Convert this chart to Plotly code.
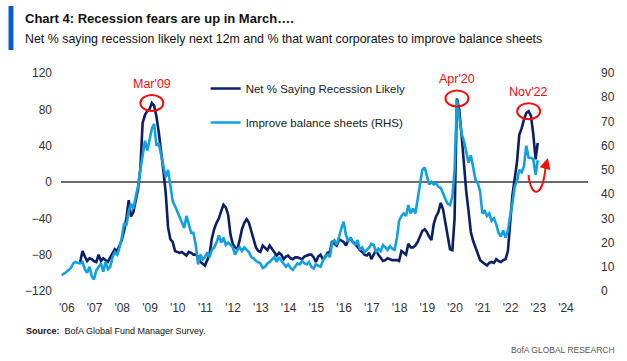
import pandas as pd
import plotly.graph_objects as go

# ---------------- data (monthly FMS readings) ----------------
improve_start = "2006-01-01"
improve_bs_rhs = (
    [6.5, 7, 7.8, 8.7, 9.5, 11.4, 12, 11.6, 11.4, 12, 9, 7.5]            # 2006
    + [10, 6, 4.8, 8.5, 10, 11.4, 8, 12, 9, 10, 14, 16]                 # 2007
    + [15, 18, 22, 28, 27, 33, 36, 34, 39, 43, 50, 57]                  # 2008
    + [62, 58, 62, 67, 69, 60, 61, 56, 51, 47, 50, 44]                  # 2009
    + [37, 35, 33, 30, 28, 26, 31, 27, 24, 24, 19, 11]                  # 2010
    + [15, 13, 14, 16, 14, 17, 18, 20, 23, 20, 22, 19]                  # 2011
    + [20, 19, 18, 15, 17, 18, 16.5, 18, 17, 16, 14, 13.5]              # 2012
    + [12.4, 12, 11.4, 9.5, 10, 11.4, 12, 13, 14, 12, 14, 12.5]         # 2013
    + [11, 10, 11, 9.5, 8.7, 10, 11.4, 11, 12.4, 11.5, 11, 12]          # 2014
    + [10, 9.3, 11, 10.5, 10, 12.4, 14.5, 15, 14, 20, 21, 19]           # 2015
    + [23, 26, 28.6, 23, 20.5, 22, 20, 19, 21, 17, 18, 16]              # 2016
    + [17, 18, 19.5, 19, 16, 17.5, 16.5, 19, 18, 17, 18.5, 17.5]        # 2017
    + [17, 22, 29, 31, 32, 31, 35.5, 32, 34, 32, 38, 45]                # 2018
    + [50, 51, 48, 44, 45, 44, 44.5, 43, 42.5, 40, 38, 36]              # 2019
    + [35.5, 39, 50, 79, 72, 65, 62, 57, 53, 56, 51, 46]                # 2020
    + [44.5, 41, 32, 33, 31, 32, 29, 30, 27.5, 24, 22.5, 25]            # 2021
    + [22, 25, 30.7, 36, 43, 45.5, 50, 49, 51.5, 60, 55, 55]            # 2022
    + [54.5, 48, 54]                                                    # 2023
)

recession_start = "2006-09-01"
recession_net = (
    [-88, -76, -82, -87]                                                # 2006 (Sep-Dec)
    + [-84, -85, -87, -88, -80, -87, -84, -86, -88, -83, -78, -74]      # 2007
    + [-76, -70, -64, -54, -40, -20, -38, -33, -18, -8, 15, 65]         # 2008
    + [74, 78, 80, 87, 84, 72, 55, 35, 12, -12, -50, -63]               # 2009
    + [-66, -76, -77, -78, -77, -79, -81, -77, -78, -80, -80, -82]      # 2010
    + [-88, -90, -92, -86, -80, -62, -52, -45, -40, -32, -25, -28]      # 2011
    + [-36, -58, -68, -72, -74, -64, -52, -45, -41, -45, -55, -64]      # 2012
    + [-72, -76, -77, -70, -73, -75, -70, -74, -78, -81, -78, -80]      # 2013
    + [-85, -82, -81, -84, -85, -83, -83, -84, -85, -82, -81, -80]      # 2014
    + [-80, -83, -88, -82, -80, -85, -83, -78, -77, -65, -68, -70]      # 2015
    + [-63, -65, -66, -70, -64, -62, -66, -68, -72, -75, -77, -80]      # 2016
    + [-81, -78, -85, -80, -75, -80, -84, -87, -86, -84, -85, -86]      # 2017
    + [-86, -86, -87, -76, -78, -80, -68, -72, -72, -70, -66, -60]      # 2018
    + [-54, -52, -55, -60, -64, -46, -38, -33, -23, -30, -45, -62]      # 2019
    + [-74, -75, -40, 92, 80, 52, 18, -10, -32, -55, -65, -72]          # 2020
    + [-81, -86, -88, -90, -92, -89, -88, -89, -85, -87, -88, -86]      # 2021
    + [-85, -76, -50, -15, 3, 22, 52, 59, 69, 76, 78, 73]               # 2022
    + [53, 25, 43]                                                      # 2023
)

tick_years = list(range(2006, 2025))
tick_labels = ["'" + str(y)[2:] for y in tick_years]
left_ticks = [-120, -80, -40, 0, 40, 80, 120]
right_ticks = [0, 10, 20, 30, 40, 50, 60, 70, 80, 90]

# peak call-outs: (label, search window)
callouts = [("Mar'09", "2008-06-01", "2010-01-01"),
            ("Apr'20", "2019-06-01", "2021-01-01"),
            ("Nov'22", "2022-01-01", "2023-01-01")]

# ---------------- build ----------------
dates_imp = pd.date_range(improve_start, periods=len(improve_bs_rhs), freq="MS")
dates_rec = pd.date_range(recession_start, periods=len(recession_net), freq="MS")
rec = pd.Series(recession_net, index=dates_rec)

DARK = "#0b1f66"
LIGHT = "#12a0e0"
RED = "#f01010"
FONT = "Liberation Sans, Arial, sans-serif"

W, H = 627, 361
L, R, T, B = 61, 34, 73, 70
PW, PH = W - L - R, H - T - B


def px(x):
    return (x - L) / PW


def py(y):
    return (H - B - y) / PH


fig = go.Figure()
fig.add_trace(go.Scatter(x=dates_rec, y=recession_net, mode="lines",
                         name="Net % Saying Recession Likely", legendgroup="a",
                         line=dict(color=DARK, width=2.6)))
fig.add_trace(go.Scatter(x=dates_imp, y=improve_bs_rhs, mode="lines",
                         name="Improve balance sheets (RHS)", legendgroup="b",
                         line=dict(color=LIGHT, width=2.6), yaxis="y2"))

shapes = []
annotations = []
for label, a, b in callouts:
    seg = rec[a:b]
    d = seg.idxmax()
    v = seg.max()
    shapes.append(dict(type="circle", xref="x", yref="y", xsizemode="pixel", ysizemode="pixel",
                       xanchor=d, yanchor=v, x0=-11.5, x1=11.5, y0=-8, y1=8,
                       line=dict(color=RED, width=2)))
    annotations.append(dict(x=d, y=v, xref="x", yref="y", text=label, showarrow=False,
                            yshift=19, font=dict(family=FONT, size=12.5, color=RED)))

# red curved arrow after the last reading
p0, c1, c2, p1 = (533, 175), (535, 197), (547, 200), (550, 168)
path = "M {},{} C {},{} {},{} {},{}".format(px(p0[0]), py(p0[1]), px(c1[0]), py(c1[1]),
                                            px(c2[0]), py(c2[1]), px(p1[0]), py(p1[1]))
shapes.append(dict(type="path", xref="paper", yref="paper", path=path,
                   line=dict(color=RED, width=2)))
annotations.append(dict(x=px(552.5), y=py(158), xref="paper", yref="paper", text="",
                        showarrow=True, ax=-3, ay=11, arrowhead=2, arrowsize=1.1,
                        arrowwidth=2, arrowcolor=RED))

# blue title bar
shapes.append(dict(type="rect", xref="paper", yref="paper", x0=px(8), x1=px(13),
                   y0=py(50), y1=py(6), fillcolor="#0a5ad6", line=dict(width=0)))

annotations += [
    dict(x=px(23), y=py(18), xref="paper", yref="paper", xanchor="left", yanchor="middle",
         text="<b>Chart 4: Recession fears are up in March….</b>", showarrow=False,
         font=dict(family=FONT, size=13, color="#111111")),
    dict(x=px(23), y=py(39), xref="paper", yref="paper", xanchor="left", yanchor="middle",
         text="Net % saying recession likely next 12m and % that want corporates to improve balance sheets",
         showarrow=False, font=dict(family=FONT, size=12.4, color="#111111")),
    dict(x=px(24), y=py(331), xref="paper", yref="paper", xanchor="left", yanchor="middle",
         text="<b>Source:</b>  BofA Global Fund Manager Survey.", showarrow=False,
         font=dict(family=FONT, size=9, color="#111111")),
    dict(x=px(622), y=py(350), xref="paper", yref="paper", xanchor="right", yanchor="middle",
         text="BofA GLOBAL RESEARCH", showarrow=False,
         font=dict(family=FONT, size=8.5, color="#555555")),
]

fig.update_layout(
    width=W, height=H,
    margin=dict(l=L, r=R, t=T, b=B, pad=0),
    paper_bgcolor="white", plot_bgcolor="white",
    showlegend=True,
    legend=dict(x=px(207), y=py(74), xanchor="left", yanchor="top",
                bgcolor="rgba(0,0,0,0)", traceorder="grouped", tracegroupgap=15,
                font=dict(family=FONT, size=11.5, color="#1a1a1a"), itemwidth=30),
    xaxis=dict(type="date", range=["2005-12-22", "2024-12-22"],
               tickvals=[f"{y}-01-01" for y in tick_years], ticktext=tick_labels,
               showgrid=False, zeroline=False, showline=False, ticks="",
               ticklabelstandoff=8, ticklabelshift=5,
               tickfont=dict(family=FONT, size=12, color="#333333")),
    yaxis=dict(range=[-120, 120], tickvals=left_ticks, showgrid=False,
               zeroline=True, zerolinecolor="#6b6b6b", zerolinewidth=2,
               showline=False, ticks="", ticklabelstandoff=8,
               tickfont=dict(family=FONT, size=12, color="#333333")),
    yaxis2=dict(range=[0, 90], tickvals=right_ticks, overlaying="y", side="right",
                showgrid=False, zeroline=False, showline=False, ticks="",
                ticklabelstandoff=12,
                tickfont=dict(family=FONT, size=12, color="#333333")),
    shapes=shapes,
    annotations=annotations,
)

fig.write_html("out.html", config={"displayModeBar": False},
               post_script="document.body.style.margin='0px';")
